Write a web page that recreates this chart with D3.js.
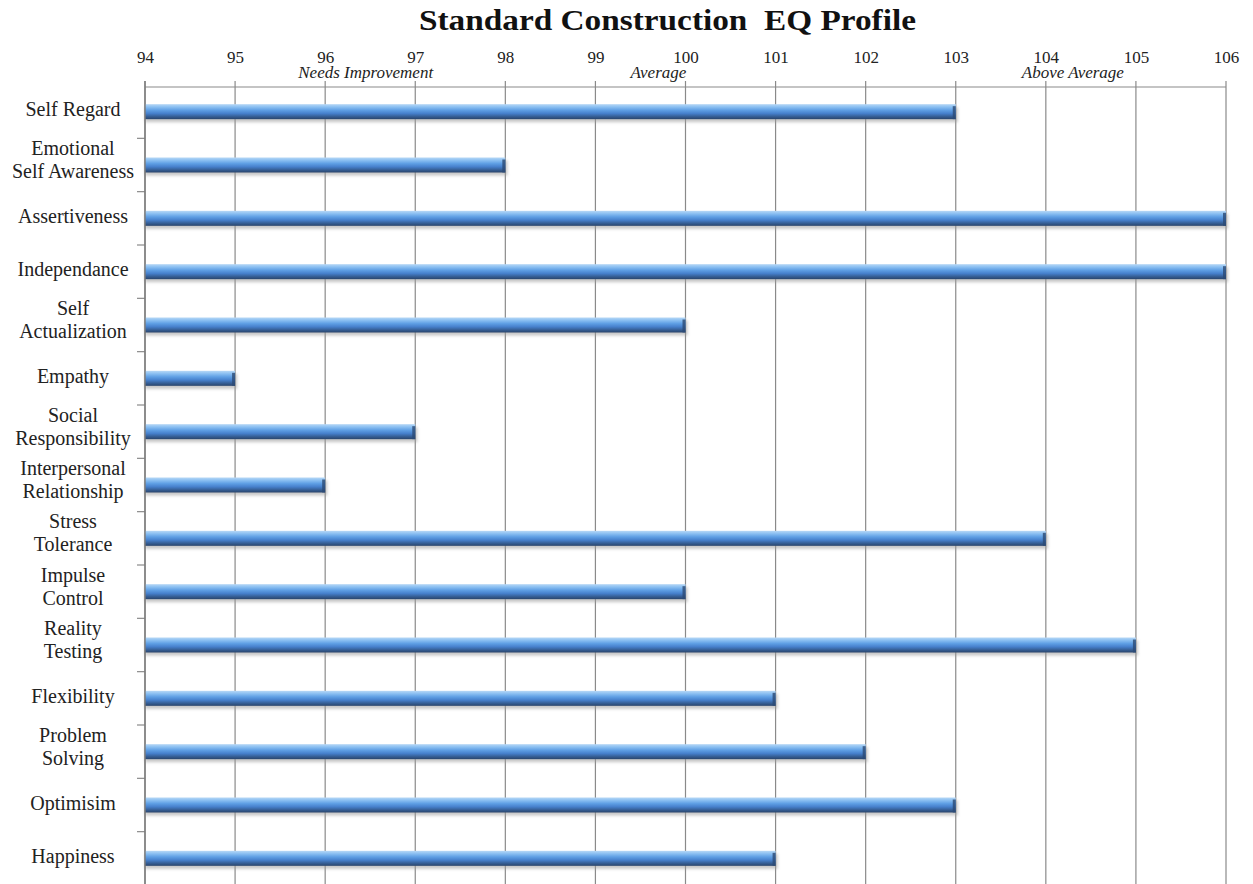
<!DOCTYPE html>
<html><head><meta charset="utf-8">
<script src="https://cdn.jsdelivr.net/npm/d3@7"></script>
<style>body{margin:0;background:#fff}svg{display:block}</style>
</head><body>
<script>
const categories = ["Self Regard","Emotional\nSelf Awareness","Assertiveness","Independance","Self\nActualization","Empathy","Social\nResponsibility","Interpersonal\nRelationship","Stress\nTolerance","Impulse\nControl","Reality\nTesting","Flexibility","Problem\nSolving","Optimisim","Happiness"];
const values = [103,98,106,106,100,95,97,96,104,100,105,101,102,103,101];
const tickValues = [94,95,96,97,98,99,100,101,102,103,104,105,106];
const zoneLabels = ["Needs Improvement","Average","Above Average"];
const zonePositions = [96.45,99.7,104.3];

const W=1253,H=884;
const svg=d3.select("body").append("svg").attr("width",W).attr("height",H);
const defs=svg.append("defs");
const g=defs.append("linearGradient").attr("id","bar").attr("x1",0).attr("y1",0).attr("x2",0).attr("y2",1);
[[0,"#b7d8f6"],[0.18,"#8cc0f2"],[0.4,"#5f9fe4"],[0.62,"#4680cc"],[0.82,"#365f96"],[1,"#2a456c"]].forEach(s=>g.append("stop").attr("offset",s[0]).attr("stop-color",s[1]));
const f=defs.append("filter").attr("id","sh").attr("x","-5%").attr("y","-50%").attr("width","110%").attr("height","200%");
f.append("feGaussianBlur").attr("stdDeviation",1.5);

const x=d3.scaleLinear().domain([94,106]).range([145,1226]);
const y=d3.scaleBand().domain(categories).range([85,885]);

svg.append("text").attr("x",419).attr("y",30)
  .attr("font-family","Liberation Serif").attr("font-weight","bold").attr("font-size",30)
  .attr("textLength",497).attr("lengthAdjust","spacingAndGlyphs")
  .attr("fill","#111").text("Standard Construction\u00a0\u00a0EQ Profile");

// grid
svg.append("g").selectAll("line").data(tickValues).join("line")
  .attr("x1",d=>x(d)).attr("x2",d=>x(d)).attr("y1",81).attr("y2",884)
  .attr("stroke","#8a8a8a").attr("stroke-width",1.2);
svg.append("line").attr("x1",x(94)).attr("x2",x(106)).attr("y1",87).attr("y2",87).attr("stroke","#8a8a8a").attr("stroke-width",1.2);

const ax=svg.append("g").attr("transform","translate(0,87)").call(d3.axisTop(x).tickValues(tickValues).tickSize(0).tickPadding(24).tickFormat(d3.format("d")));
ax.select(".domain").remove();
ax.selectAll("text").attr("font-family","Liberation Serif").attr("font-size",17).attr("fill","#222").attr("dy","0");

svg.append("g").selectAll("text").data(zoneLabels).join("text")
  .attr("x",(d,i)=>x(zonePositions[i])).attr("y",78).attr("text-anchor","middle")
  .attr("font-family","Liberation Serif").attr("font-style","italic").attr("font-size",17).attr("fill","#222").text(d=>d);

// y axis ticks
const ya=svg.append("g").attr("transform","translate(145,0)");
const bounds=categories.map(c=>y(c)).slice(1);
ya.selectAll("line").data(bounds).join("line").attr("x1",-8).attr("x2",0).attr("y1",d=>d).attr("y2",d=>d).attr("stroke","#8a8a8a").attr("stroke-width",1.2);

// labels
const lab=svg.append("g").selectAll("text").data(categories).join("text")
  .attr("text-anchor","middle").attr("font-family","Liberation Serif").attr("font-size",20).attr("fill","#222");
lab.each(function(c){
  const lines=c.split("\n");
  const cy=y(c)+y.bandwidth()/2;
  const t=d3.select(this);
  lines.forEach((l,i)=>{
    const off = lines.length===1 ? 4.5 : (i===0?-10:13);
    t.append("tspan").attr("x",73).attr("y",cy+off).text(l);
  });
});

// bars
const bh=15;
const bars=svg.append("g").selectAll("g").data(values).join("g");
bars.append("rect").attr("x",x(94)).attr("y",(d,i)=>y(categories[i])+y.bandwidth()/2-bh/2+3)
  .attr("width",d=>x(d)-x(94)+2).attr("height",bh).attr("fill","#9a9a9a").attr("opacity",0.55).attr("filter","url(#sh)");
bars.append("rect").attr("x",x(94)).attr("y",(d,i)=>y(categories[i])+y.bandwidth()/2-bh/2)
  .attr("width",d=>x(d)-x(94)).attr("height",bh).attr("fill","url(#bar)");
bars.append("rect").attr("x",d=>x(d)-3).attr("y",(d,i)=>y(categories[i])+y.bandwidth()/2-bh/2+2)
  .attr("width",3).attr("height",bh-2).attr("fill","#2c4a74").attr("opacity",0.8);
svg.append("line").attr("x1",145).attr("x2",145).attr("y1",81).attr("y2",884).attr("stroke","#7a7a7a").attr("stroke-width",1.4);
</script>
</body></html>
